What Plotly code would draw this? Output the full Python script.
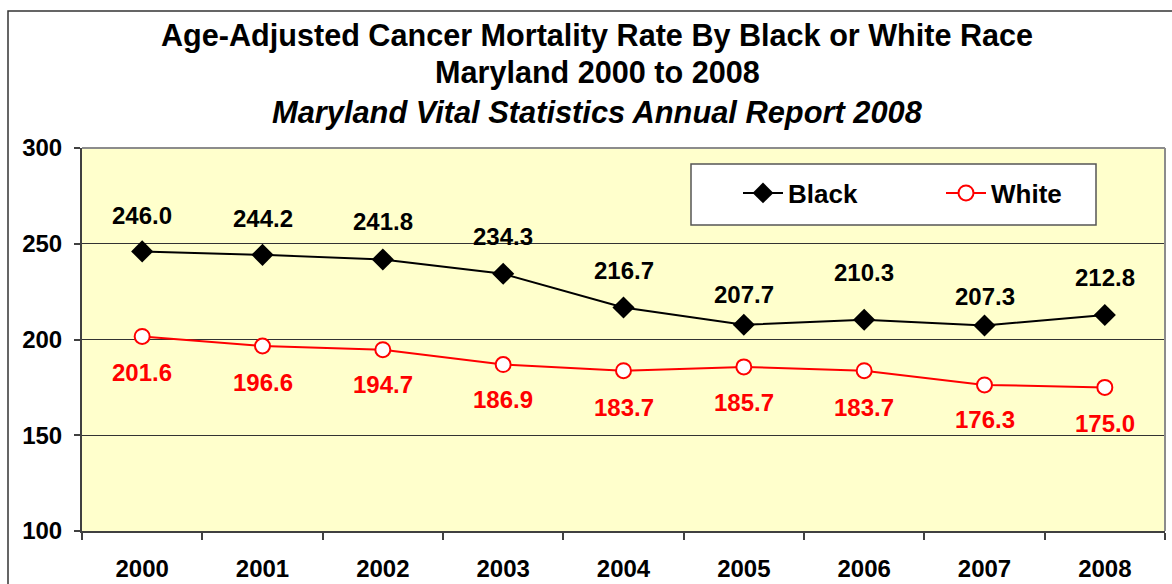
import plotly.graph_objects as go

# ---- data ----
years = ["2000", "2001", "2002", "2003", "2004", "2005", "2006", "2007", "2008"]
black_rate = [246.0, 244.2, 241.8, 234.3, 216.7, 207.7, 210.3, 207.3, 212.8]
white_rate = [201.6, 196.6, 194.7, 186.9, 183.7, 185.7, 183.7, 176.3, 175.0]
y_ticks = [100, 150, 200, 250, 300]

title_lines = [
    "Age-Adjusted Cancer Mortality Rate By Black or White Race",
    "Maryland 2000 to 2008",
    "<i>Maryland Vital Statistics Annual Report 2008</i>",
]

# label placement (pixels above/below the marker)
black_label_offsets = [36, 36, 38, 37, 37, 30, 47, 29, 37]
white_label_offsets = [36, 36, 35, 35, 37, 36, 37, 35, 36]

# ---- layout geometry ----
W, H = 1172, 584
ML, MR, MT, MB = 82, 7, 148, 53
PW, PH = W - ML - MR, H - MT - MB


def px_x(p):
    return (p - ML) / PW


def px_y(p):
    return 1 + (MT - p) / PH


FONT = "Liberation Sans, Arial, sans-serif"

fig = go.Figure()
fig.add_trace(go.Scatter(
    x=years, y=black_rate, name="Black", mode="lines+markers",
    line=dict(color="black", width=2),
    marker=dict(symbol="diamond", size=17, color="black"),
    cliponaxis=False,
))
fig.add_trace(go.Scatter(
    x=years, y=white_rate, name="White", mode="lines+markers",
    line=dict(color="#FF0000", width=2),
    marker=dict(symbol="circle", size=15, color="white",
                line=dict(color="#FF0000", width=2)),
    cliponaxis=False,
))

annotations = []
title_sizes = [30.6, 30.6, 30.8]
for i, t in enumerate(title_lines):
    annotations.append(dict(
        text=t, xref="paper", yref="paper", x=px_x(597),
        y=px_y([36, 72.5, 112.5][i]), xanchor="center", yanchor="middle",
        showarrow=False, font=dict(family=FONT, size=title_sizes[i], color="black", weight=700),
    ))
for i, (v, off) in enumerate(zip(black_rate, black_label_offsets)):
    annotations.append(dict(
        text=f"{v:.1f}", x=i, y=v, xref="x", yref="y", yshift=off,
        showarrow=False, xanchor="center", yanchor="middle",
        font=dict(family=FONT, size=24, color="black", weight=700),
    ))
for i, (v, off) in enumerate(zip(white_rate, white_label_offsets)):
    annotations.append(dict(
        text=f"{v:.1f}", x=i, y=v, xref="x", yref="y", yshift=-off,
        showarrow=False, xanchor="center", yanchor="middle",
        font=dict(family=FONT, size=24, color="#FF0000", weight=700),
    ))

shapes = [
    # outer chart-area border
    dict(type="rect", xref="paper", yref="paper",
         x0=px_x(8), x1=px_x(1200), y0=px_y(640), y1=px_y(11),
         line=dict(color="#333333", width=1.5), fillcolor="rgba(0,0,0,0)", layer="above"),
    # plot-area top / right border (gray)
    dict(type="line", xref="paper", yref="paper", x0=0, x1=1, y0=1, y1=1,
         line=dict(color="#8C8C8C", width=2), layer="above"),
    dict(type="line", xref="paper", yref="paper", x0=1, x1=1, y0=0, y1=1,
         line=dict(color="#8C8C8C", width=2), layer="above"),
    # legend box
    dict(type="rect", xref="paper", yref="paper",
         x0=px_x(691), x1=px_x(1096), y0=px_y(225), y1=px_y(164),
         line=dict(color="#555555", width=1.5), fillcolor="white", layer="above"),
]

fig.update_layout(
    width=W, height=H, autosize=False,
    margin=dict(l=ML, r=MR, t=MT, b=MB, pad=0, autoexpand=False),
    paper_bgcolor="white", plot_bgcolor="#FFFFCC",
    font=dict(family=FONT, color="black"),
    showlegend=True,
    legend=dict(
        orientation="h", x=px_x(738), y=px_y(193), xanchor="left", yanchor="middle",
        bgcolor="rgba(0,0,0,0)", borderwidth=0,
        font=dict(family=FONT, size=26, color="black", weight=700),
        entrywidth=148, itemwidth=40,
    ),
    annotations=annotations,
    shapes=shapes,
    xaxis=dict(
        type="category", range=[-0.5, 8.5], tickson="boundaries",
        ticks="outside", ticklen=7, tickwidth=2, tickcolor="#404040",
        showline=True, linecolor="#404040", linewidth=2, mirror=False,
        showgrid=False, zeroline=False, automargin=False,
        tickfont=dict(family=FONT, size=24, color="black", weight=700),
        ticklabelstandoff=15,
    ),
    yaxis=dict(
        range=[100, 300], tickvals=y_ticks, automargin=False,
        ticks="outside", ticklen=6, tickwidth=2, tickcolor="#404040",
        showline=True, linecolor="#404040", linewidth=2, mirror=False,
        showgrid=True, gridcolor="#333333", gridwidth=1, zeroline=False,
        tickfont=dict(family=FONT, size=24, color="black", weight=700),
        ticklabelstandoff=7,
    ),
)

fig.write_html(
    "out.html",
    config={"displayModeBar": False},
    post_script="document.body.style.margin='0';document.body.style.overflow='hidden';",
)
